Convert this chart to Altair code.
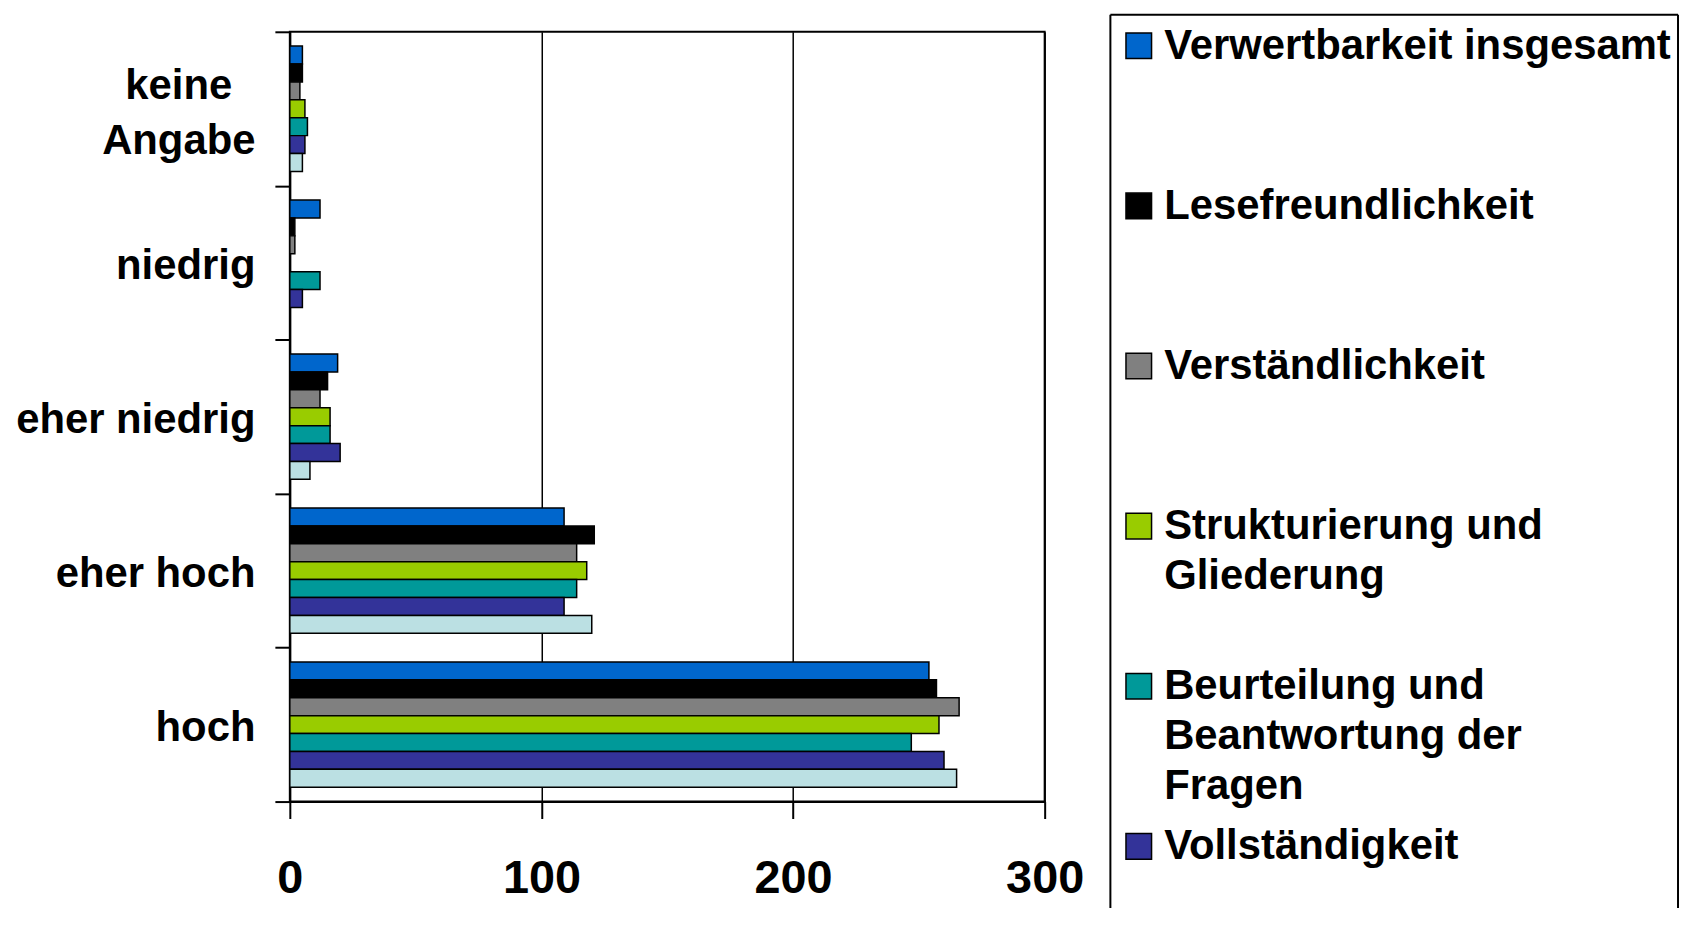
import altair as alt
import pandas as pd

# ---- data ----
categories = ["keine Angabe", "niedrig", "eher niedrig", "eher hoch", "hoch"]
series = [
    "Verwertbarkeit insgesamt",
    "Lesefreundlichkeit",
    "Verständlichkeit",
    "Strukturierung und Gliederung",
    "Beurteilung und Beantwortung der Fragen",
    "Vollständigkeit",
    "Gesamteindruck",
]
colors = ["#0066CC", "#000000", "#808080", "#99CC00", "#009999", "#333399", "#BBE0E3"]

keine_angabe = [5, 5, 4, 6, 7, 6, 5]
niedrig = [12, 2, 2, 0, 12, 5, 0]
eher_niedrig = [19, 15, 12, 16, 16, 20, 8]
eher_hoch = [109, 121, 114, 118, 114, 109, 120]
hoch = [254, 257, 266, 258, 247, 260, 265]

legend_labels = [
    "Verwertbarkeit insgesamt",
    "Lesefreundlichkeit",
    "Verständlichkeit",
    "Strukturierung und\nGliederung",
    "Beurteilung und\nBeantwortung der\nFragen",
    "Vollständigkeit",
]
x_ticks = [0, 100, 200, 300]

FONT = "Liberation Sans"

values_by_cat = [keine_angabe, niedrig, eher_niedrig, eher_hoch, hoch]
rows = []
for cat, vals in zip(categories, values_by_cat):
    for s, v in zip(series, vals):
        rows.append({"category": cat, "series": s, "value": v})
df = pd.DataFrame(rows)

color_scale = alt.Scale(domain=series, range=colors)
is_ka = "datum.value == 'keine Angabe'"

bars = alt.Chart(df).mark_bar(stroke="black", strokeWidth=1.5).encode(
    x=alt.X(
        "value:Q",
        scale=alt.Scale(domain=[0, 300], nice=False),
        axis=alt.Axis(
            values=x_ticks, format="d", title=None, grid=True,
            gridColor="black", gridWidth=1.5,
            domainColor="black", domainWidth=2,
            tickColor="black", tickWidth=2, tickSize=17,
            labelFontSize=47, labelFontWeight="bold", labelColor="black",
            labelPadding=37, labelFlush=False, labelFont=FONT,
        ),
    ),
    y=alt.Y(
        "category:N",
        sort=categories,
        scale=alt.Scale(paddingInner=0, paddingOuter=0),
        axis=alt.Axis(
            title=None, tickBand="extent",
            domainColor="black", domainWidth=2,
            tickColor="black", tickWidth=2, tickSize=15,
            labelFontSize=42, labelFontWeight="bold", labelColor="black",
            labelLimit=500, labelLineHeight=55, labelFont=FONT,
            labelBaseline="middle",
            labelExpr="datum.value == 'keine Angabe' ? ['keine', 'Angabe'] : datum.value",
            labelAlign={"condition": {"test": is_ka, "value": "center"}, "value": "right"},
            labelPadding={"condition": {"test": is_ka, "value": 97}, "value": 20},
            labelOffset={"condition": {"test": is_ka, "value": -23}, "value": 3},
        ),
    ),
    yOffset=alt.YOffset("series:N", sort=series,
                        scale=alt.Scale(paddingInner=0, paddingOuter=0.8)),
    color=alt.Color("series:N", scale=color_scale, legend=None),
).properties(width=758, height=773,
             view=alt.ViewBackground(stroke="black", strokeWidth=2))

# ---- legend panel ----
leg_df = pd.DataFrame({"series": series[:6], "label": legend_labels})
leg_y = alt.Y("series:N",
              scale=alt.Scale(type="point", domain=series[:6],
                              range=[14, 818], padding=0),
              axis=None)

squares = alt.Chart(leg_df).mark_square(
    size=660, filled=True, opacity=1, stroke="black", strokeWidth=1.5
).encode(
    x=alt.value(28.5), y=leg_y,
    color=alt.Color("series:N", scale=color_scale, legend=None),
)

texts = alt.Chart(leg_df).mark_text(
    align="left", baseline="middle", fontSize=42, fontWeight="bold",
    font=FONT, lineBreak="\n", lineHeight=50, color="black",
).encode(x=alt.value(54), y=leg_y, text="label:N")

box_df = pd.DataFrame({"k": [0]})
box_left = alt.Chart(box_df).mark_rule(color="black", strokeWidth=2).encode(
    x=alt.value(0), y=alt.value(-17), y2=alt.value(880))
box_right = alt.Chart(box_df).mark_rule(color="black", strokeWidth=2).encode(
    x=alt.value(570), y=alt.value(-17), y2=alt.value(880))
box_top = alt.Chart(box_df).mark_rule(color="black", strokeWidth=2).encode(
    x=alt.value(0), x2=alt.value(570), y=alt.value(-17))

legend = alt.layer(box_left, box_right, box_top, squares, texts).properties(
    width=570, height=880,
    view=alt.ViewBackground(stroke="transparent"),
)

chart = alt.hconcat(bars, legend, spacing=66, bounds="flush").properties(
    padding={"left": 6, "top": 0, "right": 0, "bottom": 0}
).configure(font=FONT)

chart.save("out.html", embed_options={"renderer": "svg", "actions": False})
